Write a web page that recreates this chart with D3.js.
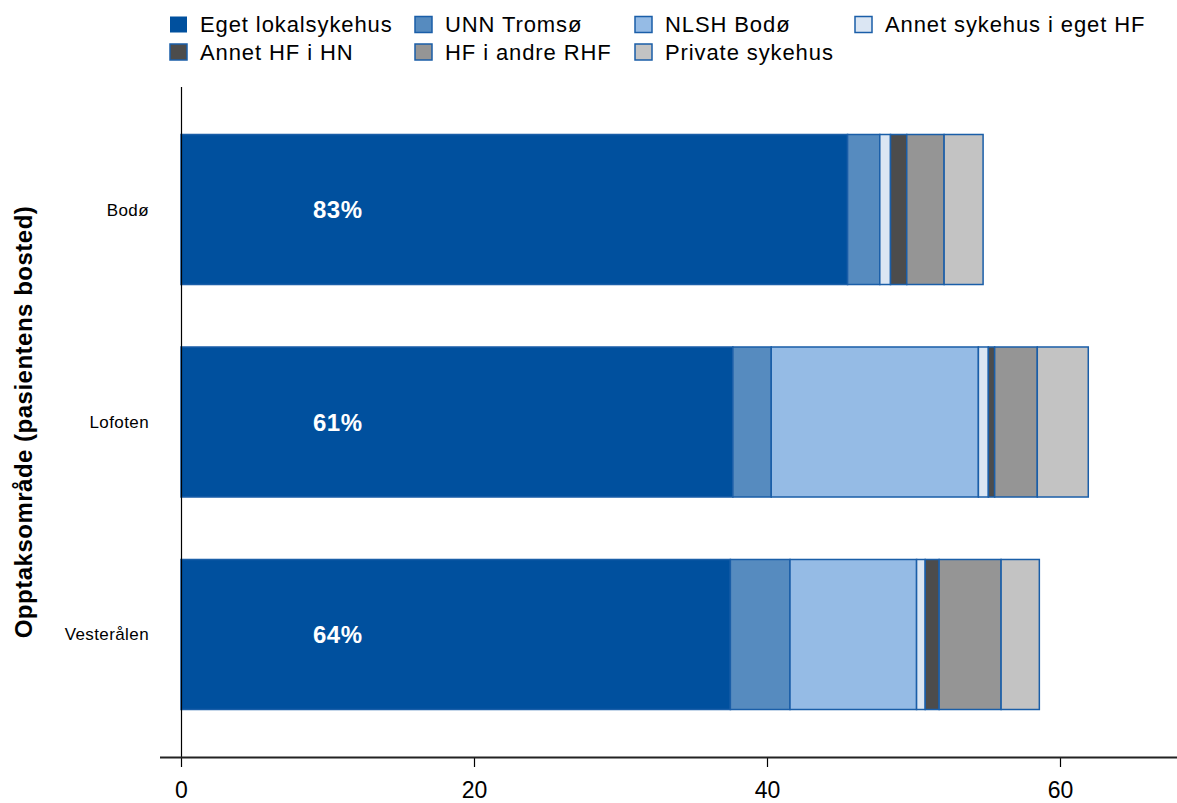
<!DOCTYPE html>
<html><head><meta charset="utf-8">
<script src="https://cdn.jsdelivr.net/npm/d3@7"></script>
<style>body{margin:0;background:#fff}svg{display:block;font-family:"Liberation Sans",Arial,sans-serif}</style>
</head><body><svg id="c" width="1177" height="803"></svg>
<script>
const categories = ["Bodø", "Lofoten", "Vesterålen"];
const seriesNames = ["Eget lokalsykehus", "UNN Tromsø", "NLSH Bodø", "Annet sykehus i eget HF", "Annet HF i HN", "HF i andre RHF", "Private sykehus"];
const egetLokal = [45.5, 37.67, 37.5];
const unnTromso = [2.2, 2.62, 4.07];
const nlshBodo = [0, 14.14, 8.64];
const annetEgetHF = [0.73, 0.68, 0.59];
const annetHFiHN = [1.11, 0.43, 0.95];
const hfAndreRHF = [2.55, 2.91, 4.23];
const privateSykehus = [2.66, 3.48, 2.61];
const percentLabels = ["83%", "61%", "64%"];
const xTicks = [0, 20, 40, 60];
const colors = ["#00509e", "#568bbf", "#95bbe5", "#dbe6f3", "#4c4c4c", "#959595", "#c3c3c3"];

const seriesValues = [egetLokal, unnTromso, nlshBodo, annetEgetHF, annetHFiHN, hfAndreRHF, privateSykehus];
const rows = categories.map((c, i) => {
  const r = {cat: c};
  seriesNames.forEach((s, j) => r[s] = seriesValues[j][i]);
  return r;
});
const stack = d3.stack().keys(seriesNames)(rows);

const svg = d3.select("#c");
const x = d3.scaleLinear().domain([0, 60]).range([181, 1060]);
const y = d3.scaleBand().domain(categories).range([87, 757]).paddingInner(0.294).paddingOuter(0.2235);

// bars
const g = svg.append("g");
stack.forEach((layer, j) => {
  g.selectAll(null).data(layer).enter().append("rect")
    .attr("x", d => x(d[0]))
    .attr("y", d => y(d.data.cat))
    .attr("width", d => Math.max(0, x(d[1]) - x(d[0])))
    .attr("height", y.bandwidth())
    .attr("fill", colors[j])
    .attr("stroke", d => (d[1] - d[0]) > 0 ? "#1a5ea8" : "none")
    .attr("stroke-width", 1.5);
});

// percent labels
svg.selectAll(null).data(categories).enter().append("text")
  .attr("x", x(10.7)).attr("y", d => y(d) + y.bandwidth() / 2 + 8.5)
  .attr("text-anchor", "middle").attr("fill", "#fff")
  .attr("font-weight", "bold").attr("font-size", 24).attr("letter-spacing", 0.5)
  .text((d, i) => percentLabels[i]);

// y axis line
svg.append("line").attr("x1", 181.5).attr("x2", 181.5).attr("y1", 87).attr("y2", 757).attr("stroke", "#000").attr("stroke-width", 1.2);
// category labels
svg.selectAll(null).data(categories).enter().append("text")
  .attr("x", 149).attr("y", d => y(d) + y.bandwidth() / 2 + 6)
  .attr("text-anchor", "end").attr("font-size", 17).attr("letter-spacing", 0.4).attr("fill", "#000")
  .text(d => d);

// x axis
const xAxis = d3.axisBottom(x).tickValues(xTicks).tickSize(10).tickFormat(d3.format("d"));
const ax = svg.append("g").attr("transform", "translate(0,757)").call(xAxis);
ax.select(".domain").remove();
ax.selectAll(".tick line").attr("stroke", "#000").attr("stroke-width", 1.2);
ax.selectAll(".tick text").attr("font-size", 23).attr("fill", "#000").attr("y", 41).attr("dy", 0)
  .attr("font-family", "Liberation Sans, Arial, sans-serif");
svg.append("line").attr("x1", 160).attr("x2", 1177).attr("y1", 757.5).attr("y2", 757.5).attr("stroke", "#222").attr("stroke-width", 2);

// y title
svg.append("text").attr("transform", "translate(32,422) rotate(-90)")
  .attr("text-anchor", "middle").attr("font-size", 24).attr("font-weight", "bold").attr("letter-spacing", 0.5).attr("fill", "#000")
  .text("Opptaksområde (pasientens bosted)");

// legend
const legX = [169, 414, 634, 854];
const legY = [24.5, 52];
seriesNames.forEach((s, j) => {
  const col = j < 4 ? j : j - 4;
  const row = j < 4 ? 0 : 1;
  const lg = svg.append("g").attr("transform", `translate(${legX[col]},${legY[row]})`);
  lg.append("rect").attr("x", 1).attr("y", -8).attr("width", 17).attr("height", 16)
    .attr("fill", colors[j]).attr("stroke", j === 0 ? "none" : "#1a5ea8").attr("stroke-width", 1.5);
  lg.append("text").attr("x", 31).attr("y", 7.5).attr("font-size", 22).attr("letter-spacing", 0.9).attr("fill", "#000").text(s);
});
</script></body></html>
